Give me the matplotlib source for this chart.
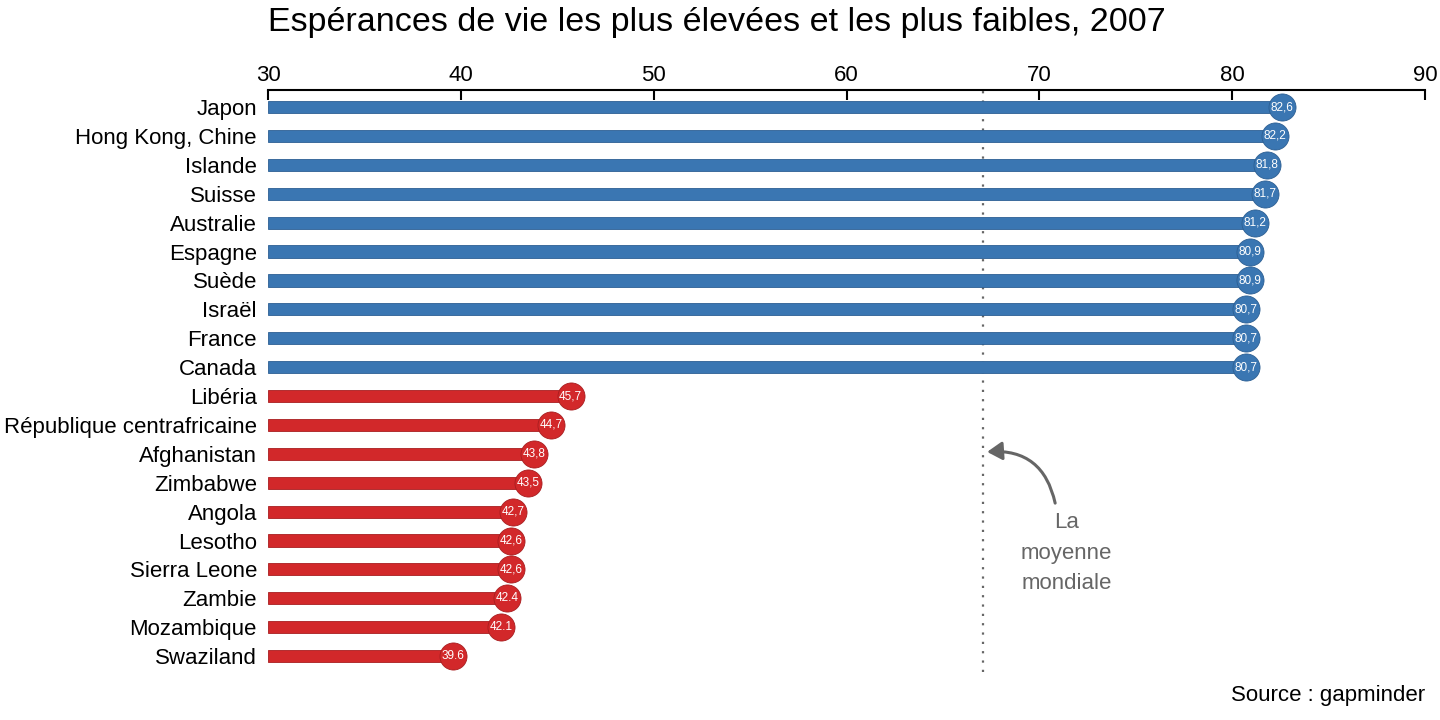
import matplotlib
matplotlib.use("Agg")
import matplotlib.pyplot as plt
from matplotlib.patches import FancyArrowPatch

plt.rcParams['font.family'] = ['Liberation Sans', 'DejaVu Sans']

countries = ["Japon", "Hong Kong, Chine", "Islande", "Suisse", "Australie",
             "Espagne", "Suède", "Israël", "France", "Canada",
             "Libéria", "République centrafricaine", "Afghanistan", "Zimbabwe",
             "Angola", "Lesotho", "Sierra Leone", "Zambie", "Mozambique", "Swaziland"]
values = [82.6, 82.2, 81.8, 81.7, 81.2, 80.9, 80.9, 80.7, 80.7, 80.7,
          45.7, 44.7, 43.8, 43.5, 42.7, 42.6, 42.6, 42.4, 42.1, 39.6]
value_labels = ["82,6", "82,2", "81,8", "81,7", "81,2", "80,9", "80,9", "80,7", "80,7", "80,7",
                "45,7", "44,7", "43,8", "43,5", "42,7", "42,6", "42,6", "42.4", "42.1", "39.6"]
groups = ["haut"] * 10 + ["bas"] * 10
world_mean = 67.1
ticks = [30, 40, 50, 60, 70, 80, 90]

colors = {"haut": "#3a76b2", "bas": "#d2282a"}
edges = {"haut": "#2c5f93", "bas": "#a81d1f"}

fig = plt.figure(figsize=(14.4, 7.2), dpi=100)
ax = fig.add_axes([268/1440, 1-672/720, (1425-268)/1440, (672-90)/720])

ys = list(range(len(countries)))
for y, v, g, lab in zip(ys, values, groups, value_labels):
    ax.barh(y, v - 30, left=30, height=0.42, color=colors[g], edgecolor=edges[g], linewidth=0.6, zorder=2)
    ax.scatter([v], [y], s=380, color=colors[g], edgecolor=edges[g], linewidth=0.6, zorder=3)
    ax.text(v, y, lab, color="white", fontsize=8.5, ha="center", va="center", zorder=4)

ax.set_xlim(30, 90)
ax.set_ylim(19.55, -0.59)
ax.axvline(world_mean, color="#666666", linestyle=(0, (1, 3.2)), linewidth=1.6, zorder=1)

ax.set_yticks(ys)
ax.set_yticklabels(countries, fontsize=16)
ax.set_xticks(ticks)
ax.set_xticklabels([str(t) for t in ticks], fontsize=16)
ax.xaxis.tick_top()
ax.tick_params(axis='x', direction='in', length=7, width=1.5, pad=3)
ax.tick_params(axis='y', length=0, pad=8)
for s in ["right", "bottom", "left"]:
    ax.spines[s].set_visible(False)
ax.spines["top"].set_linewidth(1.5)
ax.set_facecolor("white")

ax.text(71.4, 14.0, "La\nmoyenne\nmondiale", ha="center", va="top", fontsize=16,
        color="#666666", linespacing=1.62)
arrow = FancyArrowPatch((70.85, 13.8), (67.15, 11.94), connectionstyle="arc3,rad=0.45",
                        arrowstyle="-|>,head_length=9,head_width=5.5", color="#666666",
                        linewidth=2.2, zorder=5)
ax.add_patch(arrow)

fig.text(268/1440, 1-22/720, "Espérances de vie les plus élevées et les plus faibles, 2007",
         ha="left", va="center", fontsize=24.5)
fig.text(1425/1440, 1-695/720, "Source : gapminder", ha="right", va="center", fontsize=16)

fig.savefig("out.png", dpi=100, facecolor="white")
